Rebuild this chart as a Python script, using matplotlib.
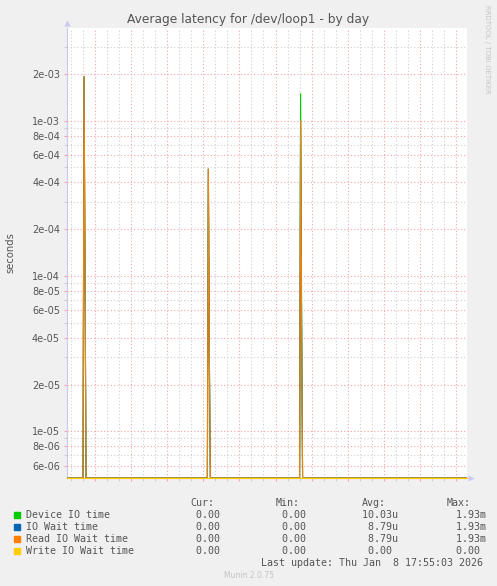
import numpy as np
import pandas as pd
import matplotlib
matplotlib.use('Agg')
import matplotlib.pyplot as plt
import matplotlib.dates as mdates
from matplotlib.ticker import FixedLocator, FuncFormatter, NullFormatter
from matplotlib.patches import Rectangle

# 5 minute samples, one per pixel
times = pd.date_range('2026-01-07 08:40', '2026-01-08 17:55', freq='5min')

# the three bursts (peak sample, then the sample after it)
spike_times = ['2026-01-07 10:05', '2026-01-07 20:25', '2026-01-08 04:05']
device_peak = [1.93e-3, 4.9e-4, 1.5e-3]
device_after = [1e-4, 3e-5, 7e-5]
iowait_peak = [1.93e-3, 4.9e-4, 1.0e-3]
iowait_after = [1e-4, 3e-5, 5e-5]
read_peak = [1.93e-3, 4.9e-4, 1.0e-3]
read_after = [1e-4, 3e-5, 5e-5]

names = ['Device IO time', 'IO Wait time', 'Read IO Wait time', 'Write IO Wait time']
colors = ['#00cc00', '#0066b3', '#ff8000', '#ffcc00']
cur_vals = [0.0, 0.0, 0.0, 0.0]
min_vals = [0.0, 0.0, 0.0, 0.0]
avg_vals = [10.03e-6, 8.79e-6, 8.79e-6, 0.0]
max_vals = [1.93e-3, 1.93e-3, 1.93e-3, 0.0]

ytick_vals = [6e-6, 8e-6, 1e-5, 2e-5, 4e-5, 6e-5, 8e-5, 1e-4, 2e-4, 4e-4,
              6e-4, 8e-4, 1e-3, 2e-3]
yminor_vals = [7e-6, 9e-6, 3e-5, 5e-5, 7e-5, 9e-5, 3e-4, 5e-4, 7e-4, 9e-4, 3e-3]

YMIN, YMAX = 5e-6, 3.95e-3


def build(peaks, after):
    s = pd.Series(0.0, index=times)
    for t, p, a in zip(spike_times, peaks, after):
        i = times.get_loc(pd.Timestamp(t))
        s.iloc[i] = p
        s.iloc[i + 1] = a
    return s.values


series = [build(device_peak, device_after),
          build(iowait_peak, iowait_after),
          build(read_peak, read_after),
          np.zeros(len(times))]

bg = '#f0f0f0'
txt = '#555555'
red = '#f4a6a6'
grey = '#cfcfcf'
axis_c = '#c8c8f0'

fig = plt.figure(figsize=(4.97, 5.86), dpi=100, facecolor=bg)
ax = fig.add_axes([67 / 497, 108 / 586, 400 / 497, 450 / 586])
ax.set_facecolor('white')
ax.set_yscale('log')

for v, c in zip(series, colors):
    y = np.where(v > 0, v, YMIN)
    # zero values sit on the floor; the all-zero write line is drawn unclipped
    ax.plot(times, y, color=c, lw=0.8, solid_joinstyle='miter', zorder=3,
            clip_on=v.any())

ax.set_xlim(times[0], times[-1])
ax.set_ylim(YMIN, YMAX)

ax.yaxis.set_major_locator(FixedLocator(ytick_vals))
ax.yaxis.set_minor_locator(FixedLocator(yminor_vals))
ax.yaxis.set_major_formatter(FuncFormatter(lambda v, p: f'{v:.0e}'))
ax.yaxis.set_minor_formatter(NullFormatter())

ax.xaxis.set_major_locator(mdates.HourLocator(interval=3))
ax.xaxis.set_minor_locator(mdates.HourLocator())
ax.xaxis.set_major_formatter(FuncFormatter(
    lambda v, p: mdates.num2date(v).strftime('%a %H:%M')
    if mdates.num2date(v).hour % 6 == 0 else ''))

ax.grid(which='minor', color=grey, lw=0.8, ls=(0, (1, 2)), zorder=1)
ax.grid(which='major', color=red, lw=0.8, ls=(0, (1, 2)), zorder=2)

ax.tick_params(which='major', length=2, width=0.8, color=red, labelsize=7,
               labelcolor=txt, pad=3)
ax.tick_params(which='minor', length=2, width=0.8, color=grey)

for s in ['top', 'right']:
    ax.spines[s].set_visible(False)
for s in ['left', 'bottom']:
    ax.spines[s].set_color(axis_c)
    ax.spines[s].set_linewidth(0.8)
    ax.spines[s].set_zorder(2.5)

# little arrow heads on the axes
ax.plot(0, 1.012, marker='^', ms=4.5, color=axis_c, transform=ax.transAxes,
        clip_on=False, mec='none')
ax.plot(1.009, 0, marker='>', ms=4.5, color=axis_c, transform=ax.transAxes,
        clip_on=False, mec='none')

fig.text(0.5, 1 - 20 / 586, 'Average latency for /dev/loop1 - by day',
         ha='center', va='center', fontsize=8.8, color=txt)
fig.text(10 / 497, 1 - 253 / 586, 'seconds', rotation=90, ha='center',
         va='center', fontsize=7.2, color=txt)
fig.text(487 / 497, 1 - 5 / 586, 'RRDTOOL / TOBI OETIKER', rotation=270,
         ha='center', va='top', fontsize=5, color='#c4c4c4')

# legend block
mono = 'DejaVu Sans Mono'
fs = 7.2


def fmt(v):
    if v == 0:
        return f'{v:6.2f}'
    if v < 1e-3:
        return f'{v * 1e6:6.2f}u'
    return f'{v * 1e3:6.2f}m'


def ftxt(x, y, s, **kw):
    fig.text(x / 497, 1 - y / 586, s, family=mono, fontsize=fs, color=txt,
             va='center', **kw)


for hx, h in zip([190, 276, 362, 447], ['Cur:', 'Min:', 'Avg:', 'Max:']):
    ftxt(hx, 503, h)

for i, name in enumerate(names):
    y = 514.5 + 12 * i
    fig.patches.append(Rectangle((14 / 497, 1 - (y + 3) / 586), 6 / 497, 6 / 586,
                                 transform=fig.transFigure, color=colors[i]))
    ftxt(26, y, name)
    ftxt(184, y, fmt(cur_vals[i]))
    ftxt(270, y, fmt(min_vals[i]))
    ftxt(356, y, fmt(avg_vals[i]))
    ftxt(444, y, fmt(max_vals[i]))

ftxt(483, 562.5, 'Last update: Thu Jan  8 17:55:03 2026', ha='right')
fig.text(0.5, 1 - 575 / 586, 'Munin 2.0.75', ha='center', va='center',
         fontsize=5.5, color='#c4c4c4')

fig.savefig('out.png', dpi=100, facecolor=bg)
